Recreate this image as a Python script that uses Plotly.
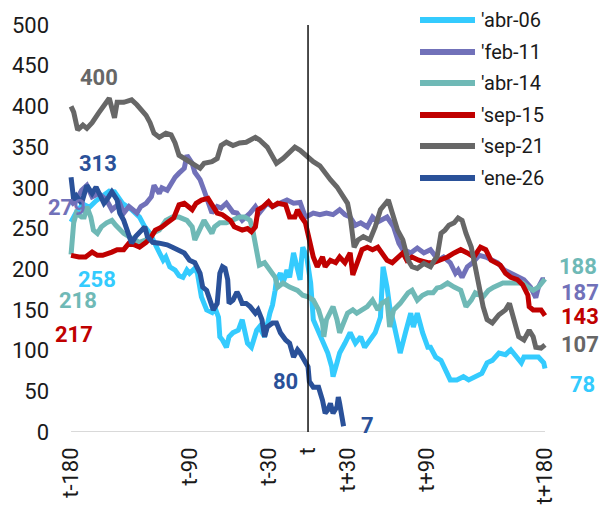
import plotly.graph_objects as go

# Day offsets from the reference date t and index level for each episode
abr06_days = [-180, -176, -171, -166, -161, -156, -151, -147, -141, -134, -128, -124, -120, -115, -113, -110,
              -108, -105, -101, -98, -95, -92, -90, -86, -84, -81, -77, -73, -71, -68, -67, -65, -62, -60, -57,
              -53, -50, -48, -46, -43, -39, -37, -33, -29, -27, -25, -24, -21, -19, -16, -14, -11, -8, -6, -5,
              -4, -1, 2, 4, 8, 11, 15, 18, 19, 22, 24, 28, 32, 36, 40, 43, 47, 51, 55, 57, 60, 62, 65, 68, 70,
              74, 78, 80, 83, 87, 91, 93, 97, 101, 105, 108, 113, 118, 122, 127, 132, 136, 140, 145, 150, 154,
              158, 162, 164, 170, 175, 179, 180]
abr06_vals = [258, 270, 280, 276, 284, 290, 296, 295, 281, 273, 264, 252, 244, 227, 220, 211,
              215, 203, 199, 192, 190, 199, 195, 201, 195, 166, 150, 147, 154, 141, 117, 113, 104, 117, 122,
              125, 138, 125, 109, 104, 125, 129, 117, 146, 156, 174, 187, 195, 183, 199, 190, 220, 203, 187, 211,
              227, 215, 183, 138, 122, 113, 97, 80, 68, 85, 97, 109, 122, 109, 117, 104, 113, 122, 141, 203, 178,
              154, 134, 109, 97, 122, 146, 129, 146, 122, 104, 104, 92, 88, 76, 64, 64, 68, 64, 68, 72, 85, 88,
              97, 95, 101, 92, 85, 92, 92, 92, 85, 78]

feb11_days = [-180, -176, -172, -168, -164, -159, -153, -149, -143, -140, -136, -130, -127, -123, -119, -117,
              -113, -111, -107, -104, -101, -98, -94, -92, -88, -86, -82, -79, -76, -73, -69, -66, -62, -57, -54,
              -50, -44, -40, -37, -31, -27, -21, -16, -11, -6, -2, 4, 9, 14, 19, 24, 28, 32, 36, 40, 45, 49, 53,
              60, 65, 69, 72, 78, 83, 88, 93, 99, 103, 108, 112, 114, 117, 121, 125, 130, 135, 140, 144, 149,
              154, 159, 164, 169, 173, 175, 178, 180]
feb11_vals = [279, 285, 297, 303, 289, 293, 285, 273, 281, 269, 277, 269, 277, 281, 289, 303,
              293, 300, 297, 306, 313, 318, 324, 340, 330, 319, 310, 297, 285, 269, 277, 275, 281, 270, 269,
              260, 269, 277, 269, 281, 277, 281, 285, 281, 282, 264, 269, 267, 269, 267, 273, 267, 264, 254, 257,
              252, 264, 258, 264, 252, 232, 224, 220, 226, 220, 224, 211, 215, 208, 195, 199, 190, 203, 208, 217,
              215, 211, 208, 199, 195, 190, 187, 178, 165, 178, 187, 187]

abr14_days = [-180, -178, -176, -172, -170, -168, -165, -163, -160, -157, -153, -149, -146, -143, -140, -136,
              -132, -128, -123, -118, -113, -108, -103, -98, -92, -88, -86, -84, -81, -79, -76, -73, -71, -67,
              -62, -57, -52, -48, -44, -42, -39, -37, -33, -29, -25, -23, -19, -14, -8, -4, 0, 4, 8, 11, 12, 14,
              18, 19, 22, 24, 27, 30, 34, 37, 41, 45, 49, 53, 56, 60, 62, 65, 70, 76, 79, 83, 87, 91, 95, 98, 101,
              106, 111, 116, 120, 124, 127, 133, 137, 141, 148, 153, 158, 163, 167, 171, 175, 180]
abr14_vals = [218, 257, 269, 264, 264, 277, 264, 248, 244, 252, 257, 260, 254, 248, 244, 240,
              236, 233, 236, 244, 248, 260, 264, 264, 260, 252, 236, 244, 252, 260, 252, 244, 252, 257,
              257, 260, 264, 264, 260, 248, 224, 205, 208, 199, 190, 178, 183, 178, 174, 168, 166, 162, 150, 134,
              117, 138, 150, 154, 138, 122, 134, 146, 150, 146, 150, 154, 162, 150, 158, 162, 129, 150, 158, 171,
              174, 162, 168, 171, 171, 177, 178, 183, 178, 174, 154, 162, 171, 166, 174, 178, 183, 183, 184, 183,
              178, 174, 178, 188]

sep15_days = [-180, -174, -169, -164, -160, -156, -149, -145, -140, -136, -132, -128, -123, -119, -116, -111,
              -107, -102, -98, -94, -91, -88, -85, -81, -76, -72, -69, -65, -59, -56, -50, -46, -43, -40, -38, -34,
              -30, -27, -23, -17, -14, -10, -8, -5, -2, 1, 4, 7, 11, 13, 17, 21, 24, 28, 32, 34, 38, 41, 45, 49,
              53, 56, 60, 64, 68, 72, 75, 79, 84, 91, 95, 101, 106, 111, 116, 121, 126, 131, 135, 139, 143, 146,
              150, 154, 159, 163, 167, 168, 171, 177, 180]
sep15_vals = [217, 215, 215, 221, 217, 217, 221, 224, 224, 232, 230, 227, 233, 240, 248, 252,
              257, 263, 279, 281, 277, 273, 281, 285, 287, 277, 269, 267, 260, 252, 248, 250, 246, 252, 273, 277,
              283, 277, 281, 279, 264, 264, 273, 264, 257, 236, 215, 203, 215, 203, 211, 208, 215, 208, 220, 193,
              211, 224, 227, 224, 227, 220, 211, 208, 215, 220, 211, 215, 211, 208, 208, 211, 215, 220, 224, 220,
              215, 227, 224, 211, 208, 205, 195, 190, 187, 181, 168, 154, 150, 150, 143]

sep21_days = [-180, -178, -175, -171, -168, -164, -159, -155, -151, -147, -145, -140, -134, -130, -127, -123,
              -120, -117, -113, -108, -104, -101, -98, -92, -88, -82, -79, -73, -69, -66, -62, -57, -52, -47, -40,
              -37, -31, -28, -24, -19, -14, -10, -6, -1, 4, 9, 13, 17, 22, 27, 30, 32, 34, 35, 38, 42, 47, 51, 55,
              59, 61, 64, 68, 72, 76, 79, 83, 88, 93, 96, 98, 101, 104, 107, 111, 114, 117, 120, 124, 127, 130,
              133, 136, 140, 145, 150, 153, 156, 158, 160, 164, 168, 171, 173, 177, 180]
sep21_vals = [400, 393, 371, 377, 373, 380, 392, 400, 410, 386, 405, 405, 408, 402, 396, 389,
              380, 367, 362, 367, 365, 355, 340, 334, 330, 324, 330, 332, 336, 352, 356, 352, 355, 356, 362,
              359, 350, 340, 330, 336, 343, 350, 346, 338, 332, 327, 318, 310, 301, 289, 281, 265, 240, 227, 236,
              240, 236, 252, 273, 281, 285, 269, 248, 236, 211, 203, 201, 207, 203, 211, 215, 244, 248, 254, 257,
              263, 260, 244, 227, 203, 178, 154, 138, 134, 144, 150, 158, 141, 129, 117, 113, 125, 117, 104, 103,
              107]

ene26_days = [-180, -178, -176, -172, -168, -164, -161, -158, -155, -153, -149, -145, -143, -140, -137, -134,
              -131, -127, -124, -122, -118, -113, -107, -103, -98, -94, -90, -86, -82, -80, -77, -75, -72, -69,
              -67, -65, -63, -61, -60, -57, -54, -52, -50, -47, -44, -40, -38, -35, -33, -31, -27, -24, -21, -17,
              -14, -11, -8, -6, -2, 0, 1, 4, 8, 11, 13, 15, 17, 19, 22, 23, 24, 27]
ene26_vals = [313, 285, 290, 281, 303, 293, 301, 289, 281, 285, 295, 285, 269, 260, 244, 232,
              240, 248, 252, 240, 233, 232, 230, 227, 224, 220, 211, 208, 195, 178, 174, 166, 150, 158,
              195, 203, 201, 187, 158, 162, 172, 166, 158, 158, 154, 146, 150, 138, 117, 129, 134, 134, 122, 113,
              109, 92, 101, 97, 85, 80, 62, 55, 55, 39, 23, 27, 35, 23, 31, 43, 35, 7]

names = ["'abr-06", "'feb-11", "'abr-14", "'sep-15", "'sep-21", "'ene-26"]
colors = ["#34CBFE", "#7171B9", "#6FB9B6", "#C00000", "#676767", "#2A5199"]
days = [abr06_days, feb11_days, abr14_days, sep15_days, sep21_days, ene26_days]
vals = [abr06_vals, feb11_vals, abr14_vals, sep15_vals, sep21_vals, ene26_vals]

tick_days = [-180, -90, -30, 0, 30, 90, 180]
tick_text = ["t-180", "t-90", "t-30", "t", "t+30", "t+90", "t+180"]

FONT = "Roboto"
fig = go.Figure()

for n, c, d, v in zip(names, colors, days, vals):
    fig.add_trace(go.Scatter(x=d, y=v, mode="lines", name=n, showlegend=False,
                             line=dict(color=c, width=5), hoverinfo="skip"))

# value labels: (series index, point index, xshift, yshift)
label_spec = [
    (4, 0, 28, 29), (5, 0, 27, 14), (1, 0, -4, -3), (0, 0, 26, -58), (2, 0, 7, -46), (3, 0, 3, -79),
    (2, -1, 33, 12), (1, -1, 35, -13), (3, -1, 35, -1), (4, -1, 35, 0), (0, -1, 37, -16),
    (5, -1, 24, 1),
]
ann = []
for si, pi, dx, dy in label_spec:
    ann.append(dict(x=days[si][pi], y=vals[si][pi], xref="x", yref="y", text="<b>%d</b>" % vals[si][pi],
                    showarrow=False, xshift=dx, yshift=dy, xanchor="center", yanchor="middle",
                    font=dict(family=FONT, size=22, color=colors[si])))
# level reached by the latest episode on day t
i0 = ene26_days.index(0)
ann.append(dict(x=0, y=ene26_vals[i0], xref="x", yref="y", text="<b>%d</b>" % ene26_vals[i0],
                showarrow=False, xshift=-23, yshift=-15, font=dict(family=FONT, size=22, color=colors[5])))

shapes = [
    dict(type="line", xref="x", yref="y", x0=-180, x1=180, y0=0, y1=0,
         line=dict(color="#D9D9D9", width=2), layer="below"),
    dict(type="line", xref="x", yref="y", x0=0, x1=0, y0=0, y1=500,
         line=dict(color="#111111", width=1.5)),
]

# legend drawn in pixel space of the page
L, T, W, H = 50, 25, 550, 407
def px(xp):
    return (xp - L) / W
def py(yp):
    return (T + H - yp) / H

leg_y = [20, 52, 83, 115, 146, 178]
for n, c, yy in zip(names, colors, leg_y):
    shapes.append(dict(type="line", xref="paper", yref="paper", x0=px(420), x1=px(475), y0=py(yy), y1=py(yy),
                       line=dict(color=c, width=6)))
    ann.append(dict(x=px(479), y=py(yy), xref="paper", yref="paper", text=n, showarrow=False,
                    xanchor="left", yanchor="middle", font=dict(family=FONT, size=20, color="#1a1a1a")))

fig.update_layout(
    width=600, height=510,
    margin=dict(l=L, r=0, t=T, b=510 - T - H),
    paper_bgcolor="white", plot_bgcolor="white",
    font=dict(family=FONT, color="#1a1a1a"),
    xaxis=dict(range=[-196, -196 + W / 1.3165], tickvals=tick_days, ticktext=tick_text, tickangle=-90,
               showgrid=False, zeroline=False, showline=False, ticks="", ticklabelstandoff=10,
               tickfont=dict(family=FONT, size=22, color="#1a1a1a")),
    yaxis=dict(range=[0, 500], dtick=50, tick0=0, showgrid=False, zeroline=False, showline=False, ticks="",
               tickfont=dict(family=FONT, size=22, color="#1a1a1a")),
    shapes=shapes, annotations=ann,
)

fig.write_html("out.html")
